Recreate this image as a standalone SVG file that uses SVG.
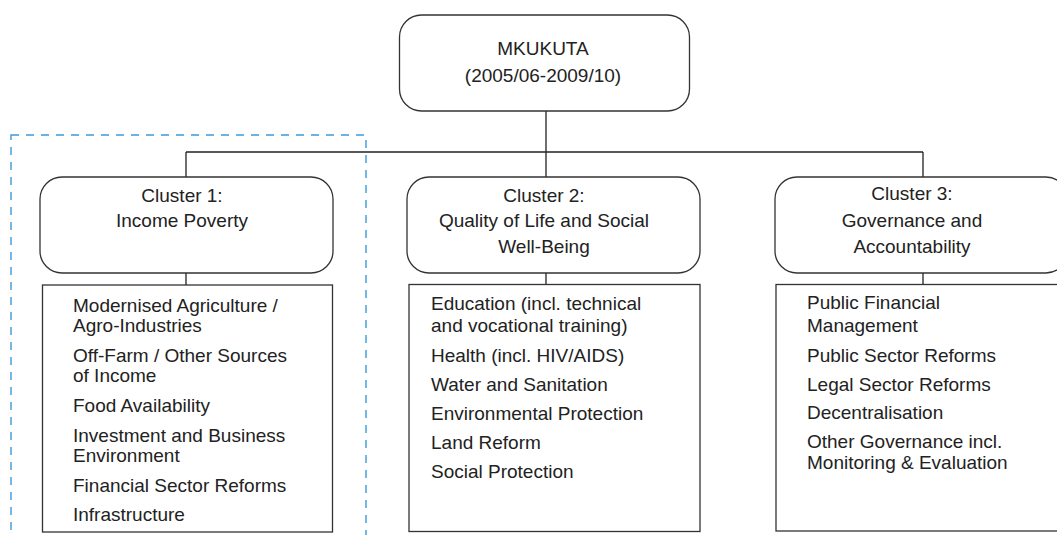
<svg xmlns="http://www.w3.org/2000/svg" width="1057" height="535" viewBox="0 0 1057 535">
<style>
.box{fill:#fff;stroke:#333;stroke-width:1.3}
.t{font-family:"Liberation Sans",Arial,sans-serif;font-size:19px;fill:#222}
.c{text-anchor:middle}
.ln{stroke:#222;stroke-width:1.3;fill:none}
.dash{fill:none;stroke:#3a9ad9;stroke-width:1.4;stroke-dasharray:8 7}
</style>
<rect width="1057" height="535" fill="#fff"/>
<rect class="dash" x="11" y="135" width="355" height="420"/>
<g id="connectors">
<path class="ln" d="M546 111V177M186 152H923M186 152V177M923 152V177M186 273V285M546 273V284M923 273V284"/>
</g>
<g id="root">
<rect class="box" x="399.5" y="15" width="290" height="96" rx="22"/>
<text class="t c" x="543" y="55">MKUKUTA</text>
<text class="t c" x="543" y="82">(2005/06-2009/10)</text>
</g>
<g id="cluster1">
<rect class="box" x="40" y="177" width="293" height="96" rx="22"/>
<text class="t c" x="182" y="202">Cluster 1:</text>
<text class="t c" x="182" y="227">Income Poverty</text>
</g>
<g id="list1">
<rect class="box" x="42.5" y="285" width="290" height="247"/>
<text class="t" x="73" y="312">Modernised Agriculture /</text>
<text class="t" x="73" y="332">Agro-Industries</text>
<text class="t" x="73" y="362">Off-Farm / Other Sources</text>
<text class="t" x="73" y="382">of Income</text>
<text class="t" x="73" y="412">Food Availability</text>
<text class="t" x="73" y="442">Investment and Business</text>
<text class="t" x="73" y="462">Environment</text>
<text class="t" x="73" y="492">Financial Sector Reforms</text>
<text class="t" x="73" y="521">Infrastructure</text>
</g>
<g id="cluster2">
<rect class="box" x="407" y="177" width="293" height="96" rx="22"/>
<text class="t c" x="544" y="202">Cluster 2:</text>
<text class="t c" x="544" y="227">Quality of Life and Social</text>
<text class="t c" x="544" y="253">Well-Being</text>
</g>
<g id="list2">
<rect class="box" x="409" y="284.5" width="291" height="247"/>
<text class="t" x="431" y="310">Education (incl. technical</text>
<text class="t" x="431" y="332">and vocational training)</text>
<text class="t" x="431" y="362">Health (incl. HIV/AIDS)</text>
<text class="t" x="431" y="391">Water and Sanitation</text>
<text class="t" x="431" y="420">Environmental Protection</text>
<text class="t" x="431" y="449">Land Reform</text>
<text class="t" x="431" y="478">Social Protection</text>
</g>
<g id="cluster3">
<rect class="box" x="775" y="177" width="293" height="96" rx="22"/>
<text class="t c" x="912" y="200">Cluster 3:</text>
<text class="t c" x="912" y="227">Governance and</text>
<text class="t c" x="912" y="253">Accountability</text>
</g>
<g id="list3">
<rect class="box" x="776" y="284.5" width="291" height="246.5"/>
<text class="t" x="807" y="309">Public Financial</text>
<text class="t" x="807" y="332">Management</text>
<text class="t" x="807" y="362">Public Sector Reforms</text>
<text class="t" x="807" y="391">Legal Sector Reforms</text>
<text class="t" x="807" y="419">Decentralisation</text>
<text class="t" x="807" y="448">Other Governance incl.</text>
<text class="t" x="807" y="469">Monitoring &amp; Evaluation</text>
</g>
</svg>
